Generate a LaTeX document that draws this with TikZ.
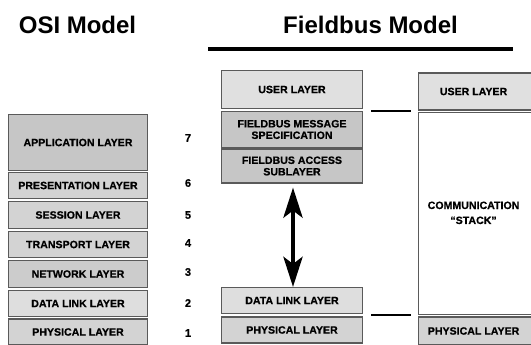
\documentclass[tikz,border=0pt]{standalone}
\usepackage{fontspec}
\setmainfont{Liberation Sans}
\newfontfamily\boxfont[FakeBold=0.6]{Liberation Sans Bold}
\usetikzlibrary{arrows.meta}
\definecolor{bordc}{HTML}{5A5A5A}
\definecolor{fdark}{HTML}{C6C6C6}
\definecolor{fmid}{HTML}{D3D3D3}
\definecolor{fnet}{HTML}{CCCCCC}
\definecolor{flight}{HTML}{DEDEDE}
\definecolor{fuserc}{HTML}{E0E0E0}
\begin{document}
\begin{tikzpicture}[x=1pt,y=-1pt,
  layerbox/.style={draw=bordc, line width=1.1pt, inner sep=0pt, align=center,
    font=\boxfont\fontsize{10.6}{11.5}\selectfont},
  osi/.style={layerbox, minimum width=139pt},
  fb/.style={layerbox, minimum width=141pt},
  rbox/.style={layerbox, minimum width=130pt, anchor=west},
  num/.style={font=\boxfont\fontsize{11}{12}\selectfont, inner sep=0pt},
  title/.style={font=\fontsize{24}{26}\selectfont\bfseries, inner sep=0pt},
  link/.style={line width=2pt, black},
  bigarrow/.style={line width=4.5pt,
    {Stealth[length=30pt,width=19pt,inset=7pt]}-{Stealth[length=30pt,width=19pt,inset=7pt]}}
]
\useasboundingbox (0,0) rectangle (531,345);

% titles
\node[title] (t1) at (77.5,25) {OSI Model};
\node[title] (t2) at (370.5,25) {Fieldbus Model};
\coordinate (bl) at (208,49);
\coordinate (br) at (513,49);
\draw[line width=4pt] (bl) -- (br);

% OSI layers
\node[osi, fill=fdark, minimum height=56pt] (app) at (78,142.5) {APPLICATION LAYER};
\node[osi, fill=fmid, minimum height=26pt] (pres) at (78,185.5) {PRESENTATION LAYER};
\node[osi, fill=fmid, minimum height=27pt] (sess) at (78,215) {SESSION LAYER};
\node[osi, fill=fmid, minimum height=26pt] (trans) at (78,244.5) {TRANSPORT LAYER};
\node[osi, fill=fnet, minimum height=27pt] (net) at (78,274) {NETWORK LAYER};
\node[osi, fill=flight, minimum height=26pt] (dl) at (78,303.5) {DATA LINK LAYER};
\node[osi, fill=fmid, minimum height=26pt] (phys) at (78,332) {PHYSICAL LAYER};

% numbers
\node[num] (n7) at (188,138) {7};
\node[num] (n6) at (188,183) {6};
\node[num] (n5) at (188,215) {5};
\node[num] (n4) at (188,243) {4};
\node[num] (n3) at (188,272) {3};
\node[num] (n2) at (188,303) {2};
\node[num] (n1) at (188,333) {1};

% Fieldbus stack
\node[fb, fill=fuserc, minimum height=38pt] (fuser) at (292,89.5) {USER LAYER};
\node[fb, fill=fdark, minimum height=36pt] (fms) at (292,129.5) {FIELDBUS MESSAGE\\SPECIFICATION};
\node[fb, fill=fdark, minimum height=34pt] (fas) at (292,166) {FIELDBUS ACCESS\\SUBLAYER};
\node[fb, fill=flight, minimum height=26pt] (fdl) at (292,300.5) {DATA LINK LAYER};
\node[fb, fill=fmid, minimum height=26pt] (fphys) at (292,330) {PHYSICAL LAYER};

% right column
\node[rbox, fill=fuserc, minimum height=37pt] (ruser) at (418,91.5)
  {\makebox[110pt]{USER LAYER}\hspace*{20pt}};
\node[rbox, fill=white, minimum height=202pt] (rstack) at (418,213.5)
  {\makebox[110pt]{\fontsize{10.6}{15}\selectfont\begin{tabular}{@{}c@{}}COMMUNICATION\\“STACK”\end{tabular}}\hspace*{20pt}};
\node[rbox, fill=fmid, minimum height=28pt] (rphys) at (418,331)
  {\makebox[110pt]{PHYSICAL LAYER}\hspace*{20pt}};

% connectors
\draw[bigarrow] ([xshift=1pt,yshift=-4pt]fas.south) -- ([xshift=1pt]fdl.north);
\draw[link] ([xshift=8pt]fuser.south east |- ruser.south west) -- ([xshift=-7pt]ruser.south west);
\draw[link] ([xshift=8pt,yshift=1pt]fphys.north east |- rphys.north west) -- ([xshift=-7pt,yshift=1pt]rphys.north west);
\end{tikzpicture}
\end{document}
